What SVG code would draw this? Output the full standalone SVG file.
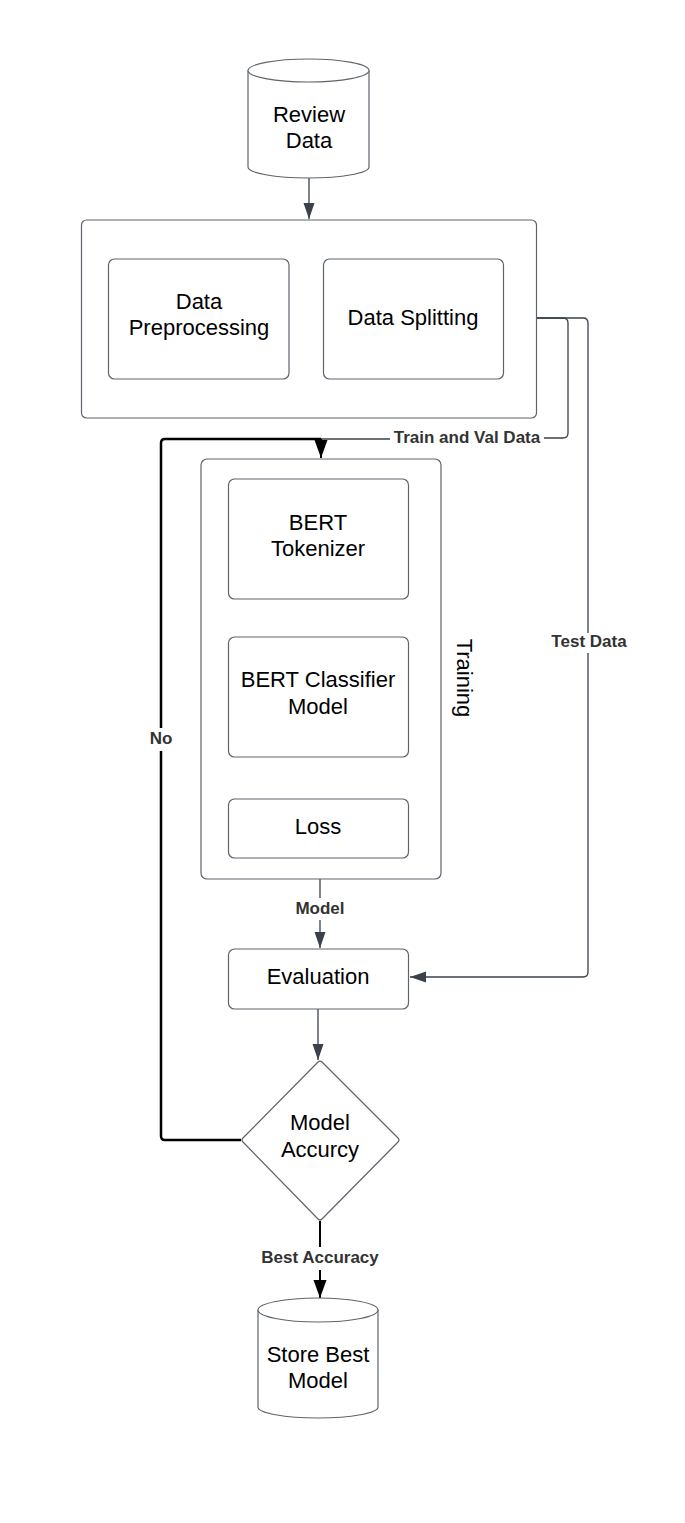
<svg xmlns="http://www.w3.org/2000/svg" width="685" height="1523" viewBox="0 0 685 1523">
<style>
.box{fill:#fff;stroke:#5e646c;stroke-width:1.2}
.t{font-family:"Liberation Sans",Arial,sans-serif;font-size:22px;fill:#000;text-anchor:middle}
.lbl{font-family:"Liberation Sans",Arial,sans-serif;font-size:17px;font-weight:bold;fill:#333;text-anchor:middle}
.ln{fill:none;stroke:#3a414a;stroke-width:1.3}
.thk{fill:none;stroke:#000;stroke-width:2.5}
.thk2{fill:none;stroke:#000;stroke-width:2}
</style>
<defs>
<marker id="ah" markerWidth="16" markerHeight="12" viewBox="0 0 16 12" refX="16" refY="6" orient="auto" markerUnits="userSpaceOnUse">
<path d="M0,0.5 L16,6 L0,11.5 Z" fill="#3a414a"/>
</marker>
<marker id="ahk" markerWidth="18" markerHeight="14" viewBox="0 0 18 14" refX="18" refY="7" orient="auto" markerUnits="userSpaceOnUse">
<path d="M0,0.5 L18,7 L0,13.5 Z" fill="#000"/>
</marker>
</defs>
<rect width="685" height="1523" fill="#fff"/>

<g id="connectors">
<path class="ln" d="M309,178 V219" marker-end="url(#ah)"/>
<path class="ln" d="M289,318 H322" marker-end="url(#ah)"/>
<path class="ln" d="M503,318 H563 Q568,318 568,323 V433 Q568,438 563,438 H544"/>
<path class="ln" d="M390,439 H321"/>
<path class="ln" d="M503,318 H583 Q588,318 588,323 V633"/>
<path class="ln" d="M588,653 V972 Q588,977 583,977 H410" marker-end="url(#ah)"/>
<path class="ln" d="M318,599 V636" marker-end="url(#ah)"/>
<path class="ln" d="M318,757 V798" marker-end="url(#ah)"/>
<path class="ln" d="M320,879 V898"/>
<path class="ln" d="M320,920 V948" marker-end="url(#ah)"/>
<path class="ln" d="M318,1009 V1060" marker-end="url(#ah)"/>
<path class="thk" d="M241,1140 H165 Q161,1140 161,1136 V751"/>
<path class="thk" d="M161,728 V443 Q161,439 165,439 H321"/>
<path class="thk2" d="M321,439 V458" marker-end="url(#ahk)"/>
<path class="thk2" d="M320,1221 V1247"/>
<path class="thk2" d="M320,1270 V1298" marker-end="url(#ahk)"/>
<text class="lbl" x="467" y="443">Train and Val Data</text>
<text class="lbl" x="589" y="647">Test Data</text>
<text class="lbl" x="320" y="914">Model</text>
<text class="lbl" x="161" y="744">No</text>
<text class="lbl" x="320" y="1263">Best Accuracy</text>
</g>

<g id="review-data">
<path class="box" d="M248,70.5 V167 A60.5,11 0 0 0 369,167 V70.5 A60.5,11.5 0 0 0 248,70.5 Z"/>
<path class="box" d="M248,70.5 A60.5,11.5 0 0 0 369,70.5" fill="none"/>
<text class="t" x="309" y="122">Review</text>
<text class="t" x="309" y="148">Data</text>
</g>

<g id="data-group">
<rect class="box" x="81.5" y="220" width="455" height="198" rx="5"/>
</g>

<g id="data-preprocessing">
<rect class="box" x="108.5" y="259" width="180.5" height="120" rx="6"/>
<text class="t" x="199" y="309">Data</text>
<text class="t" x="199" y="335">Preprocessing</text>
</g>

<g id="data-splitting">
<rect class="box" x="323.5" y="259" width="180" height="120" rx="6"/>
<text class="t" x="413" y="325">Data Splitting</text>
</g>

<g id="training">
<rect class="box" x="201" y="459" width="240" height="420" rx="6"/>
<text class="t" transform="translate(457,678) rotate(90)" x="0" y="0">Training</text>
</g>

<g id="bert-tokenizer">
<rect class="box" x="228.5" y="479" width="180" height="120" rx="6"/>
<text class="t" x="318" y="530">BERT</text>
<text class="t" x="318" y="556">Tokenizer</text>
</g>

<g id="bert-classifier">
<rect class="box" x="228.5" y="637" width="180" height="120" rx="6"/>
<text class="t" x="318" y="687">BERT Classifier</text>
<text class="t" x="318" y="714">Model</text>
</g>

<g id="loss">
<rect class="box" x="228.5" y="799" width="180" height="59" rx="6"/>
<text class="t" x="318" y="834">Loss</text>
</g>

<g id="evaluation">
<rect class="box" x="228.5" y="949" width="180" height="60" rx="6"/>
<text class="t" x="318" y="984">Evaluation</text>
</g>

<g id="model-accuracy">
<path class="box" d="M318,1062 Q320,1060 322,1062 L398,1138 Q400,1140 398,1142 L322,1219 Q320,1221 318,1219 L243,1142 Q241,1140 243,1138 Z"/>
<text class="t" x="320" y="1130">Model</text>
<text class="t" x="320" y="1157">Accurcy</text>
</g>

<g id="store-best-model">
<path class="box" d="M258,1310 V1407 A60,11 0 0 0 378,1407 V1310 A60,12 0 0 0 258,1310 Z"/>
<path class="box" d="M258,1310 A60,12 0 0 0 378,1310" fill="none"/>
<text class="t" x="318" y="1362">Store Best</text>
<text class="t" x="318" y="1388">Model</text>
</g>
</svg>
